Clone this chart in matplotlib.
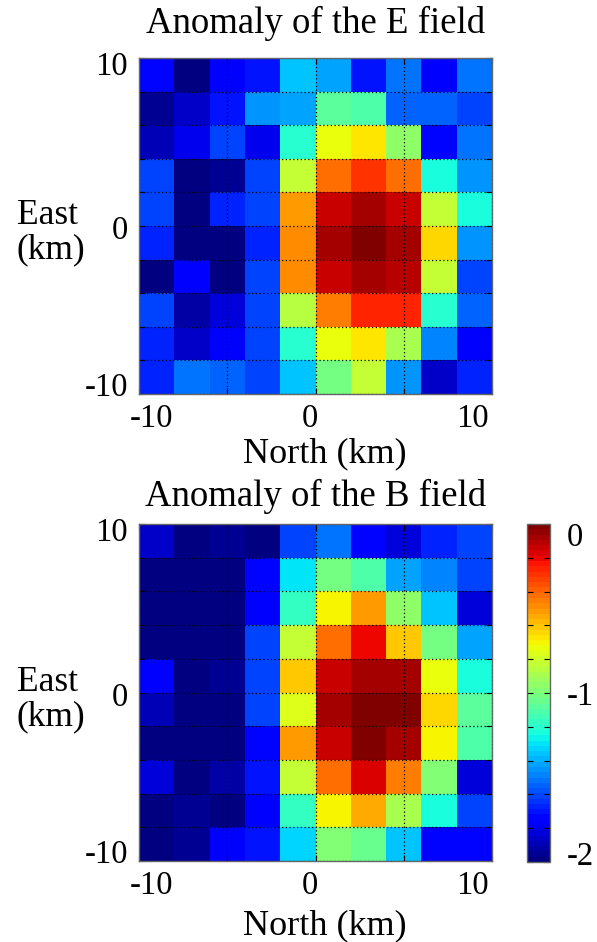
import numpy as np
import matplotlib
matplotlib.use("Agg")
import matplotlib.pyplot as plt

plt.rcParams['font.family'] = ['Liberation Serif', 'DejaVu Serif']
plt.rcParams['axes.unicode_minus'] = False

# ---------------- data ----------------
# cell edges (km)
north_edges = np.arange(-10, 11, 2)
east_edges = np.arange(-10, 11, 2)

# rows listed from top (East = +9) to bottom (East = -9), columns North -9 .. 9
e_field = [
    [-1.72, -2.00, -1.77, -1.70, -1.35, -1.41, -1.69, -1.53, -1.76, -1.53],
    [-1.94, -1.86, -1.69, -1.46, -1.41, -1.08, -1.12, -1.55, -1.55, -1.62],
    [-1.88, -1.80, -1.62, -1.80, -1.19, -0.75, -0.66, -0.96, -1.72, -1.53],
    [-1.60, -2.00, -1.94, -1.60, -0.82, -0.41, -0.31, -0.43, -1.25, -1.44],
    [-1.60, -1.98, -1.66, -1.60, -0.53, -0.15, -0.07, -0.15, -0.83, -1.25],
    [-1.66, -2.00, -1.98, -1.66, -0.50, -0.09,  0.00, -0.09, -0.63, -1.44],
    [-2.00, -1.76, -2.00, -1.62, -0.50, -0.15, -0.07, -0.10, -0.83, -1.60],
    [-1.60, -1.91, -1.84, -1.60, -0.86, -0.44, -0.27, -0.27, -1.19, -1.55],
    [-1.66, -1.86, -1.76, -1.60, -1.19, -0.75, -0.66, -0.88, -1.50, -1.77],
    [-1.68, -1.53, -1.56, -1.62, -1.35, -1.03, -0.82, -1.44, -1.86, -1.66],
]

b_field = [
    [-1.86, -2.00, -1.96, -1.98, -1.62, -1.53, -1.75, -1.84, -1.66, -1.60],
    [-2.00, -2.00, -2.00, -1.72, -1.30, -1.03, -1.12, -1.41, -1.50, -1.60],
    [-2.00, -2.00, -2.00, -1.77, -1.16, -0.69, -0.53, -0.96, -1.35, -1.82],
    [-2.00, -2.00, -2.00, -1.62, -0.82, -0.43, -0.19, -0.60, -1.03, -1.41],
    [-1.77, -2.00, -1.96, -1.62, -0.60, -0.15, -0.07, -0.09, -0.72, -1.25],
    [-1.88, -2.00, -2.00, -1.62, -0.78, -0.09,  0.00,  0.00, -0.63, -1.09],
    [-2.00, -2.00, -2.00, -1.72, -0.52, -0.15, -0.03, -0.07, -0.70, -1.12],
    [-1.84, -2.00, -1.92, -1.69, -0.84, -0.41, -0.18, -0.45, -1.00, -1.84],
    [-2.00, -1.96, -2.00, -1.77, -1.16, -0.69, -0.54, -0.88, -1.25, -1.62],
    [-2.00, -1.94, -1.77, -1.69, -1.33, -1.00, -1.06, -1.35, -1.72, -1.72],
]

titles = ["Anomaly of the E field", "Anomaly of the B field"]
x_label = "North (km)"
y_label = "East\n(km)"
axis_tick_labels = ["-10", "0", "10"]
cbar_tick_labels = ["-2", "-1", "0"]
vmin, vmax = -2.0, 0.0

# ---------------- layout ----------------
W, H = 597, 942
fig = plt.figure(figsize=(W / 100, H / 100), dpi=100)

def px_axes(l, t, r, b):
    return [l / W, 1 - b / H, (r - l) / W, (b - t) / H]

ax_top = fig.add_axes(px_axes(139, 58, 492, 394))
ax_bot = fig.add_axes(px_axes(139, 524, 492, 861))
cax = fig.add_axes(px_axes(527, 524, 550, 862))

cmap = plt.get_cmap('jet', 64)
frame_color = '#666666'

# label positions (layout, not data)
x_lab_pos = [-9.3, -0.3, 8.9]
y_lab_pos = [-9.4, -0.1, 9.7]

mesh = None
for ax, data, title, tpad, xl_y in [
        (ax_top, e_field, titles[0], 18, -0.128),
        (ax_bot, b_field, titles[1], 13, -0.142)]:
    arr = np.flipud(np.array(data))
    mesh = ax.pcolormesh(north_edges, east_edges, arr, cmap=cmap,
                         vmin=vmin, vmax=vmax, shading='flat')
    ax.set_xlim(-10, 10)
    ax.set_ylim(-10, 10)
    ax.xaxis.remove_overlapping_locs = False
    ax.yaxis.remove_overlapping_locs = False
    ax.set_xticks(np.arange(-10, 11, 5))
    ax.set_xticklabels([])
    ax.set_yticks(np.arange(-10, 11, 2))
    ax.set_yticklabels([])
    ax.set_xticks(x_lab_pos, labels=axis_tick_labels, minor=True)
    ax.set_yticks(y_lab_pos, labels=axis_tick_labels, minor=True)
    ax.tick_params(which='major', direction='in', length=4, width=0.8,
                   color='k', top=True, right=True)
    ax.tick_params(which='minor', length=0, labelsize=23.5, colors='k')
    ax.tick_params(axis='x', which='minor', pad=7)
    ax.tick_params(axis='y', which='minor', pad=8)
    ax.grid(True, which='major', color='k', linestyle=(0, (1, 2)),
            linewidth=0.9)
    for s in ax.spines.values():
        s.set_color(frame_color)
        s.set_linewidth(1.0)
    ax.set_title(title, fontsize=26.5, pad=tpad)
    ax.set_xlabel(x_label, fontsize=26, va='top')
    ax.xaxis.set_label_coords(0.526, xl_y)
    ax.set_ylabel(y_label, fontsize=25.5, rotation=0, ha='left', va='center',
                  linespacing=1.05)
    ax.yaxis.set_label_coords(-0.346, 0.48)

cb = fig.colorbar(mesh, cax=cax)
cb.outline.set_edgecolor(frame_color)
cb.outline.set_linewidth(1.0)
cax.yaxis.remove_overlapping_locs = False
cax.set_yticks(np.arange(-2, 0.001, 0.2))
cax.set_yticklabels([])
cax.set_yticks([-1.95, -1.0, -0.06], labels=cbar_tick_labels, minor=True)
cax.yaxis.set_ticks_position('both')
cax.tick_params(which='major', direction='in', length=4, width=0.8,
                left=True, right=True, labelleft=False, labelright=False)
cax.tick_params(which='minor', length=0, labelsize=23.5, pad=12,
                left=False, right=True, labelleft=False, labelright=True)

fig.savefig("out.png", dpi=100)
